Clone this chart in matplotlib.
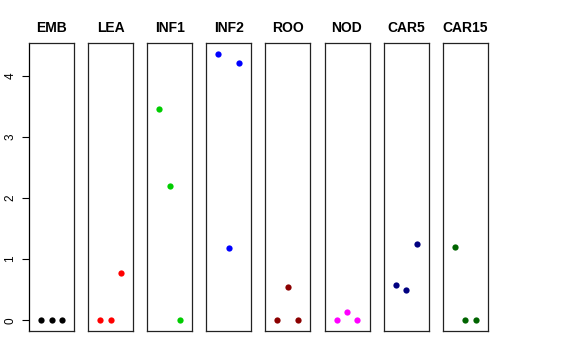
import matplotlib
matplotlib.use("Agg")
import matplotlib.pyplot as plt

plt.rcParams['font.family'] = ['Liberation Sans', 'DejaVu Sans']

# tissues and their three values each
tissues = ["EMB", "LEA", "INF1", "INF2", "ROO", "NOD", "CAR5", "CAR15"]
values = [
    [0.0, 0.0, 0.0],
    [0.0, 0.0, 0.78],
    [3.46, 2.19, 0.0],
    [4.36, 1.18, 4.21],
    [0.0, 0.54, 0.0],
    [0.0, 0.13, 0.0],
    [0.57, 0.49, 1.24],
    [1.20, 0.0, 0.0],
]
colors = ["black", "red", "#00CD00", "blue", "#8B0000", "magenta", "#000080", "#006400"]
xpos = [1, 2, 3]

W, H = 576, 360
fig = plt.figure(figsize=(W / 100, H / 100), dpi=100)

ymax = max(max(v) for v in values)
yext = ymax * 0.04

for i, name in enumerate(tissues):
    left = 29 + i * 59.1
    ax = fig.add_axes([left / W, (H - 331) / H, 45 / W, 288 / H])
    ax.plot(xpos, values[i], 'o', color=colors[i], ms=4.5, mec='none')
    ax.set_xlim(-0.16, 4.16)
    ax.set_ylim(-yext, ymax + yext)
    ax.set_xticks([])
    ax.set_title(name, fontsize=10, fontweight='bold', pad=8)
    for s in ax.spines.values():
        s.set_linewidth(0.9)
        s.set_color('#222222')
    if i == 0:
        ax.set_yticks([0, 1, 2, 3, 4])
        ax.tick_params(axis='y', labelsize=8.5, length=5, width=0.8, pad=4)
        for lab in ax.get_yticklabels():
            lab.set_rotation(90)
            lab.set_va('center')
        ax.spines['left'].set_color('black')
    else:
        ax.set_yticks([])

fig.savefig("out.png", dpi=100)
